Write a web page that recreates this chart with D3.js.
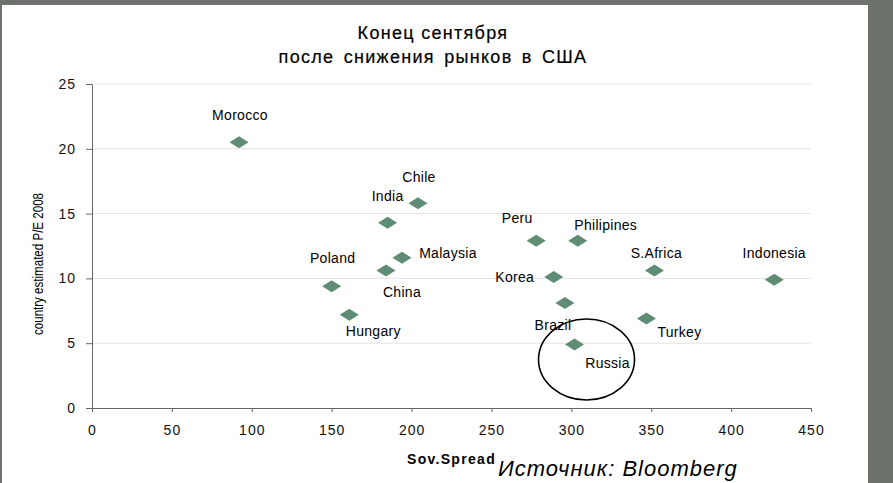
<!DOCTYPE html>
<html>
<head>
<meta charset="utf-8">
<script src="https://cdn.jsdelivr.net/npm/d3@7"></script>
<style>
  body { margin: 0; background: #6d726c; }
  svg { display: block; font-family: "Liberation Sans", Arial, sans-serif; }
</style>
</head>
<body>
<div class="chart"></div>
<script>
// data
const countries = ["Morocco", "Chile", "India", "Malaysia", "Poland", "China", "Hungary",
    "Peru", "Philipines", "S.Africa", "Indonesia", "Korea", "Brazil", "Turkey", "Russia"]
const spread = [92, 204, 185, 194, 150, 184, 161, 278, 304, 352, 427, 289, 296, 347, 302]
const pe = [20.5, 15.8, 14.3, 11.6, 9.4, 10.6, 7.2, 12.9, 12.9, 10.6, 9.9, 10.1, 8.1, 6.9, 4.9]
const xTicks = [0, 50, 100, 150, 200, 250, 300, 350, 400, 450]
const yTicks = [0, 5, 10, 15, 20, 25]
const titleLines = ["Конец сентября", "после снижения рынков в США"]

// label placement relative to the marker (px)
const labelOffset = {
    Morocco: [1, -27], Chile: [1, -26], India: [0, -27], Malaysia: [46, -5],
    Poland: [1, -28], China: [16, 21], Hungary: [24, 16], Peru: [-19, -23],
    Philipines: [28, -16], "S.Africa": [2, -18], Indonesia: [0, -27], Korea: [-39, 0],
    Brazil: [-12, 22], Turkey: [33, 13], Russia: [33, 19]
}

const W = 893, H = 483
const margin = { top: 84, right: 82, bottom: 75, left: 92 }
const width = W - margin.left - margin.right
const height = H - margin.top - margin.bottom

const svg = d3.select(".chart")
    .append("svg")
    .attr("width", W)
    .attr("height", H)

// white page inside the gray frame
svg.append("rect")
    .attr("x", 2).attr("y", 5)
    .attr("width", 866).attr("height", H - 5)
    .attr("fill", "#fff")

const g = svg.append("g")
    .attr("transform", `translate(${margin.left}, ${margin.top})`)

const x = d3.scaleLinear().domain([0, 450]).range([0, width])
const y = d3.scaleLinear().domain([0, 25]).range([height, 0])

// horizontal gridlines
g.selectAll(".grid")
    .data(yTicks.slice(1))
    .join("line")
    .attr("x1", 0).attr("x2", width)
    .attr("y1", d => y(d)).attr("y2", d => y(d))
    .attr("stroke", "#e2e2e2")
    .attr("stroke-width", 1)

//x axis
g.append("g")
    .attr("transform", `translate(0, ${height})`)
    .call(d3.axisBottom(x).tickValues(xTicks).tickSize(4).tickPadding(13).tickSizeOuter(0))
    .call(ax => ax.select(".domain").attr("stroke", "#666"))
    .call(ax => ax.selectAll(".tick line").attr("stroke", "#666"))
    .selectAll(".tick text")
    .style("font-size", "14px")
    .style("letter-spacing", "1px")
    .attr("fill", "#111")

//y axis
g.append("g")
    .call(d3.axisLeft(y).tickValues(yTicks).tickSize(6).tickPadding(10).tickSizeOuter(0))
    .call(ax => ax.select(".domain").attr("stroke", "#666"))
    .call(ax => ax.selectAll(".tick line").attr("stroke", "#666"))
    .selectAll(".tick text")
    .style("font-size", "14px")
    .style("letter-spacing", "1px")
    .attr("fill", "#111")

// markers
g.selectAll(".pt")
    .data(countries)
    .join("path")
    .attr("transform", (d, i) => `translate(${x(spread[i])}, ${y(pe[i])})`)
    .attr("d", "M-9.5,0L0,-6L9.5,0L0,6Z")
    .attr("fill", "#5f8c75")

// point labels
g.selectAll(".lbl")
    .data(countries)
    .join("text")
    .attr("x", (d, i) => x(spread[i]) + labelOffset[d][0])
    .attr("y", (d, i) => y(pe[i]) + labelOffset[d][1])
    .attr("text-anchor", "middle")
    .attr("dominant-baseline", "central")
    .style("font-size", "14px")
    .style("letter-spacing", "0.3px")
    .attr("fill", "#000")
    .text(d => d)

// ring around Russia
const ri = countries.indexOf("Russia")
g.append("ellipse")
    .attr("cx", x(spread[ri]) + 12)
    .attr("cy", y(pe[ri]) + 15)
    .attr("rx", 48)
    .attr("ry", 40.5)
    .attr("fill", "none")
    .attr("stroke", "#000")
    .attr("stroke-width", 1.6)

//title
svg.selectAll(".title")
    .data(titleLines)
    .join("text")
    .attr("x", 433)
    .attr("y", (d, i) => 39 + i * 24)
    .attr("text-anchor", "middle")
    .style("font-size", "18px")
    .style("letter-spacing", "1.3px")
    .style("word-spacing", (d, i) => i ? "3px" : "0px")
    .attr("fill", "#000")
    .attr("stroke", "#000")
    .attr("stroke-width", 0.2)
    .text(d => d)

//axis titles
svg.append("text")
    .attr("x", margin.left + width / 2)
    .attr("y", 464)
    .attr("text-anchor", "middle")
    .style("font-size", "14px")
    .style("font-weight", "bold")
    .style("letter-spacing", "1.3px")
    .attr("fill", "#000")
    .text("Sov.Spread")

svg.append("text")
    .attr("transform", "rotate(-90)")
    .attr("x", -264)
    .attr("y", 43)
    .attr("text-anchor", "middle")
    .attr("textLength", 142)
    .attr("lengthAdjust", "spacingAndGlyphs")
    .style("font-size", "14px")
    .attr("fill", "#000")
    .text("country estimated P/E 2008")

// source note at the bottom edge
svg.append("text")
    .attr("x", 498)
    .attr("y", 476)
    .style("font-size", "22px")
    .style("font-style", "italic")
    .style("letter-spacing", "1px")
    .attr("fill", "#000")
    .text("Источник: Bloomberg")
</script>
</body>
</html>
